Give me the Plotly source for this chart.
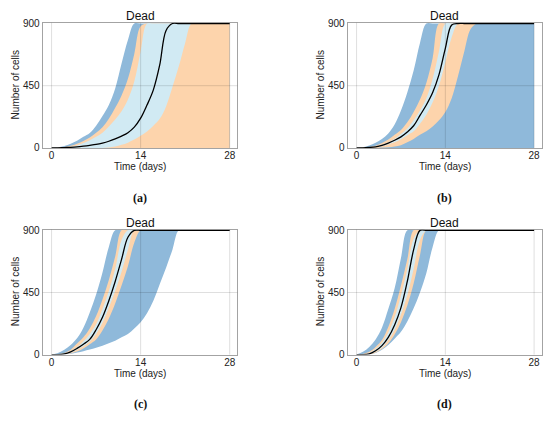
import plotly.graph_objects as go

# simulated "Dead" cell counts (a)-(d)
DAYS = list(range(29))
X_TICKS = [0, 14, 28]
Y_TICKS = [0, 450, 900]
PANEL_LABELS = ["(a)", "(b)", "(c)", "(d)"]
TITLE = "Dead"

A_BLUE_UP = [0, 4, 13, 30, 52, 80, 108, 160, 230, 310, 430, 610, 780, 900, 900, 900, 900, 900, 900, 900, 900, 900, 900, 900, 900, 900, 900, 900, 900]
A_BLUE_LO = [0, 0, 0, 0, 0, 0, 0, 0, 0, 0, 0, 0, 0, 0, 0, 0, 0, 0, 0, 0, 0, 0, 0, 0, 0, 0, 0, 0, 0]
A_PEACH_UP = [0, 2, 6, 15, 30, 50, 75, 110, 150, 210, 290, 380, 500, 680, 880, 900, 900, 900, 900, 900, 900, 900, 900, 900, 900, 900, 900, 900, 900]
A_PEACH_LO = [0, 0, 0, 0, 0, 0, 0, 0, 0, 0, 0, 0, 0, 0, 0, 0, 0, 0, 0, 0, 0, 0, 0, 0, 0, 0, 0, 0, 0]
A_CYAN_UP = [0, 1, 3, 8, 18, 35, 55, 80, 110, 155, 205, 265, 350, 480, 700, 900, 900, 900, 900, 900, 900, 900, 900, 900, 900, 900, 900, 900, 900]
A_CYAN_LO = [0, 0, 0, 0, 0, 0, 0, 0, 0, 3, 10, 22, 38, 60, 88, 118, 160, 210, 300, 440, 590, 760, 900, 900, 900, 900, 900, 900, 900]
A_MEDIAN = [0, 0, 2, 4, 7, 12, 18, 25, 35, 48, 65, 85, 110, 150, 215, 310, 420, 600, 850, 900, 900, 900, 900, 900, 900, 900, 900, 900, 900]

B_BLUE_UP = [0, 5, 18, 38, 65, 105, 170, 270, 400, 560, 760, 900, 900, 900, 900, 900, 900, 900, 900, 900, 900, 900, 900, 900, 900, 900, 900, 900, 900]
B_BLUE_LO = [0, 0, 0, 0, 0, 0, 0, 0, 0, 0, 0, 0, 0, 0, 0, 0, 0, 0, 0, 0, 0, 0, 0, 0, 0, 0, 0, 0, 0]
B_PEACH_UP = [0, 2, 6, 15, 35, 60, 95, 130, 185, 260, 350, 470, 650, 900, 900, 900, 900, 900, 900, 900, 900, 900, 900, 900, 900, 900, 900, 900, 900]
B_PEACH_LO = [0, 0, 0, 0, 2, 5, 10, 20, 40, 65, 95, 120, 155, 200, 260, 360, 520, 700, 860, 900, 900, 900, 900, 900, 900, 900, 900, 900, 900]
B_CYAN_UP = [0, 1, 4, 10, 22, 40, 65, 100, 140, 200, 270, 360, 500, 700, 900, 900, 900, 900, 900, 900, 900, 900, 900, 900, 900, 900, 900, 900, 900]
B_CYAN_LO = [0, 0, 2, 5, 12, 25, 40, 62, 92, 120, 175, 240, 330, 450, 620, 800, 900, 900, 900, 900, 900, 900, 900, 900, 900, 900, 900, 900, 900]
B_MEDIAN = [0, 0, 3, 8, 18, 35, 55, 80, 115, 160, 235, 310, 400, 530, 720, 890, 900, 900, 900, 900, 900, 900, 900, 900, 900, 900, 900, 900, 900]

C_BLUE_UP = [0, 12, 35, 70, 118, 195, 305, 435, 595, 780, 900, 900, 900, 900, 900, 900, 900, 900, 900, 900, 900, 900, 900, 900, 900, 900, 900, 900, 900]
C_BLUE_LO = [0, 0, 2, 6, 15, 25, 37, 50, 65, 82, 100, 125, 150, 190, 235, 300, 390, 510, 630, 760, 900, 900, 900, 900, 900, 900, 900, 900, 900]
C_PEACH_UP = [0, 3, 12, 35, 80, 125, 190, 280, 400, 540, 710, 900, 900, 900, 900, 900, 900, 900, 900, 900, 900, 900, 900, 900, 900, 900, 900, 900, 900]
C_PEACH_LO = [0, 0, 2, 8, 22, 45, 75, 110, 175, 260, 370, 500, 640, 810, 900, 900, 900, 900, 900, 900, 900, 900, 900, 900, 900, 900, 900, 900, 900]
C_CYAN_UP = [0, 2, 8, 25, 55, 95, 150, 220, 330, 460, 620, 830, 900, 900, 900, 900, 900, 900, 900, 900, 900, 900, 900, 900, 900, 900, 900, 900, 900]
C_CYAN_LO = [0, 0, 3, 12, 35, 60, 95, 150, 230, 340, 460, 600, 760, 900, 900, 900, 900, 900, 900, 900, 900, 900, 900, 900, 900, 900, 900, 900, 900]
C_MEDIAN = [0, 0, 5, 20, 45, 75, 110, 180, 270, 390, 530, 690, 850, 900, 900, 900, 900, 900, 900, 900, 900, 900, 900, 900, 900, 900, 900, 900, 900]

D_BLUE_UP = [0, 20, 55, 110, 195, 330, 480, 700, 900, 900, 900, 900, 900, 900, 900, 900, 900, 900, 900, 900, 900, 900, 900, 900, 900, 900, 900, 900, 900]
D_BLUE_LO = [0, 1, 3, 12, 35, 70, 115, 165, 240, 335, 450, 590, 780, 900, 900, 900, 900, 900, 900, 900, 900, 900, 900, 900, 900, 900, 900, 900, 900]
D_PEACH_UP = [0, 5, 20, 55, 105, 200, 330, 500, 690, 900, 900, 900, 900, 900, 900, 900, 900, 900, 900, 900, 900, 900, 900, 900, 900, 900, 900, 900, 900]
D_PEACH_LO = [0, 0, 3, 14, 40, 80, 145, 235, 355, 515, 720, 900, 900, 900, 900, 900, 900, 900, 900, 900, 900, 900, 900, 900, 900, 900, 900, 900, 900]
D_CYAN_UP = [0, 2, 12, 40, 85, 160, 270, 430, 620, 840, 900, 900, 900, 900, 900, 900, 900, 900, 900, 900, 900, 900, 900, 900, 900, 900, 900, 900, 900]
D_CYAN_LO = [0, 0, 4, 20, 50, 105, 180, 290, 430, 620, 830, 900, 900, 900, 900, 900, 900, 900, 900, 900, 900, 900, 900, 900, 900, 900, 900, 900, 900]
D_MEDIAN = [0, 0, 6, 28, 65, 125, 215, 340, 530, 760, 900, 900, 900, 900, 900, 900, 900, 900, 900, 900, 900, 900, 900, 900, 900, 900, 900, 900, 900]

BLUE = "#8fb9da"
PEACH = "#fdd4ac"
CYAN = "#d1eaf3"
FRAME = "#a3a3a3"
GRID = "rgba(0,0,0,0.13)"
SANS = "Liberation Sans, Arial, sans-serif"

panels = [
    ([(A_BLUE_LO, A_BLUE_UP, BLUE), (A_PEACH_LO, A_PEACH_UP, PEACH), (A_CYAN_LO, A_CYAN_UP, CYAN)], A_MEDIAN),
    ([(B_BLUE_LO, B_BLUE_UP, BLUE), (B_PEACH_LO, B_PEACH_UP, PEACH), (B_CYAN_LO, B_CYAN_UP, CYAN)], B_MEDIAN),
    ([(C_BLUE_LO, C_BLUE_UP, BLUE), (C_PEACH_LO, C_PEACH_UP, PEACH), (C_CYAN_LO, C_CYAN_UP, CYAN)], C_MEDIAN),
    ([(D_BLUE_LO, D_BLUE_UP, BLUE), (D_PEACH_LO, D_PEACH_UP, PEACH), (D_CYAN_LO, D_CYAN_UP, CYAN)], D_MEDIAN),
]

x_domains = [[0.0776, 0.4315], [0.6322, 0.9849]]
y_domains = [[0.6515, 0.9565], [0.1473, 0.452]]

fig = go.Figure()
annotations = []
shapes = []
for i, (bands, median) in enumerate(panels):
    n = "" if i == 0 else str(i + 1)
    xa, ya = "x" + n, "y" + n
    for lo, up, col in bands:
        fig.add_trace(go.Scatter(x=DAYS, y=lo, mode="lines", line=dict(width=0, shape="spline"),
                                 xaxis=xa, yaxis=ya, hoverinfo="skip", showlegend=False))
        fig.add_trace(go.Scatter(x=DAYS, y=up, mode="lines", line=dict(width=0, shape="spline"),
                                 fill="tonexty", fillcolor=col,
                                 xaxis=xa, yaxis=ya, hoverinfo="skip", showlegend=False))
    fig.add_trace(go.Scatter(x=DAYS, y=median, mode="lines", line=dict(color="black", width=1.3, shape="spline"),
                             xaxis=xa, yaxis=ya, hoverinfo="skip", showlegend=False))

    axis = dict(showgrid=False, zeroline=False, showline=True, mirror=True, linecolor=FRAME,
                linewidth=1.2, ticks="", tickfont=dict(size=10, color="#222"), layer="below traces")
    fig.layout["xaxis" + n] = dict(axis, domain=x_domains[i % 2], range=[-1.4, 29.2],
                                   tickvals=X_TICKS, anchor=ya, ticklabelstandoff=-2)
    fig.layout["yaxis" + n] = dict(axis, domain=y_domains[i // 2], range=[0, 905],
                                   tickvals=Y_TICKS, anchor=xa)

    # grid drawn on top so it shows faintly through the bands
    for t in X_TICKS:
        shapes.append(dict(type="line", xref=xa, yref=ya + " domain", x0=t, x1=t, y0=0, y1=1,
                           line=dict(color=GRID, width=1), layer="above"))
    shapes.append(dict(type="line", xref=xa + " domain", yref=ya, x0=0, x1=1, y0=450, y1=450,
                       line=dict(color=GRID, width=1), layer="above"))

    annotations += [
        dict(text=TITLE, xref=xa + " domain", yref=ya + " domain", x=0.5, y=1.055,
             showarrow=False, yanchor="middle", font=dict(size=12, color="#111")),
        dict(text="Time (days)", xref=xa + " domain", yref=ya + " domain", x=0.5, y=-0.15,
             showarrow=False, yanchor="middle", font=dict(size=10, color="#222")),
        dict(text="Number of cells", xref=xa + " domain", yref=ya + " domain", x=-0.142, y=0.5,
             textangle=-90, showarrow=False, xanchor="center", yanchor="middle",
             font=dict(size=10, color="#222")),
        dict(text="<b>" + PANEL_LABELS[i] + "</b>", xref=xa + " domain", yref=ya + " domain",
             x=0.5, y=-0.398, showarrow=False, yanchor="middle",
             font=dict(size=12, color="#111", family="Liberation Serif, serif")),
    ]

fig.update_layout(
    width=550, height=421,
    margin=dict(l=0, r=0, t=0, b=0),
    paper_bgcolor="white", plot_bgcolor="white",
    font=dict(family=SANS),
    annotations=annotations, shapes=shapes,
    showlegend=False,
)
# drop the browser's default body margin so the 550x421 figure fills the window
fig.write_html("out.html", config={"displayModeBar": False},
               post_script="document.body.style.margin='0';")
